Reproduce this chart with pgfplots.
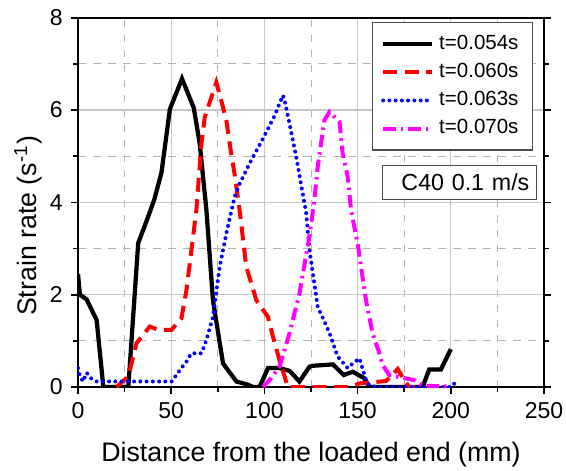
\documentclass[border=0pt]{standalone}
\usepackage{fontspec}
\setmainfont{Liberation Sans}
\usepackage{pgfplots}
\pgfplotsset{compat=1.18}
\definecolor{mag}{RGB}{255,0,255}
\definecolor{rd}{RGB}{255,0,0}
\definecolor{bl}{RGB}{0,0,255}
\begin{document}
\begin{tikzpicture}
\begin{axis}[
 scale only axis, width=186.4pt, height=147.7pt,
 xmin=0, xmax=250, ymin=0, ymax=8,
 xtick={0,50,...,250}, ytick={0,2,...,8},
 minor x tick num=1, minor y tick num=1,
 grid=both,
 major grid style={black!22, line width=0.5pt},
 minor grid style={black!30, dashed, line width=0.4pt},
 axis line style={line width=0.9pt},
 every tick/.style={black, line width=0.7pt},
 tick align=outside,
 xtick pos=lower, ytick pos=both,
 major tick length=2.6pt, minor tick length=2pt,
 /pgf/number format/assume math mode=true,
 tick label style={font=\fontsize{9.2}{11}\selectfont},
 xlabel={Distance from the loaded end (mm)},
 ylabel={Strain rate (s\textsuperscript{-1})},
 label style={font=\fontsize{10.7}{13}\selectfont},
 xlabel style={at={(axis description cs:0.5,0)}, anchor=base, yshift=-29.9pt},
 ylabel style={at={(axis description cs:0,0.436)}, anchor=base, yshift=16.4pt},
 legend style={at={(0.976,0.988)}, anchor=north east, font=\fontsize{8.2}{9.8}\selectfont,
   draw=black!70, line width=0.5pt, cells={anchor=west}, inner xsep=3.5pt, inner ysep=3pt, row sep=0pt},
 legend image code/.code={\draw[#1] (0pt,0pt) -- (19.6pt,0pt);},
]
\addplot[black, line width=1.7pt] coordinates {
(0,2.45) (1,2.0) (4.6,1.9) (10,1.45) (13.6,0) (27,0) (32.3,3.12) (37,3.62) (41,4.07)
(44.8,4.65) (49.3,6.02) (55.8,6.68) (62.1,6.05) (65.3,5.27) (68.9,3.83) (72.4,1.88)
(77.8,0.51) (85,0.12) (91.2,0.05) (93.9,0) (97.4,0) (101.9,0.41) (108,0.41) (113.5,0.35)
(118.8,0.12) (124.2,0.44) (126,0.46) (136.7,0.49) (142.6,0.26) (147.4,0.33) (153.6,0.19)
(156.3,0) (184.9,0) (188.4,0.38) (194.7,0.38) (200,0.82)};
\addlegendentry{t=0.054s}
\addplot[rd, line width=1.6pt, dash pattern=on 5.6pt off 3pt] coordinates {
(20.7,0) (27,0.23) (31.4,0.95) (38.5,1.31) (43,1.24) (50.2,1.24) (55.5,1.49) (58.2,2.1)
(63.5,3.83) (66.2,5.27) (68,5.84) (74.2,6.6) (76.9,6.2) (79.6,5.77) (82.3,5.02) (84,4.62)
(86.7,3.83) (90.3,2.6) (95.7,1.88) (101.9,1.52) (104.6,1.09) (108.1,0.58) (112.6,0)
(146,0) (151,0.08) (157.2,0.1) (165.2,0.13) (167.9,0.23) (171.5,0.39) (175,0.15) (177.7,0) (181,0)};
\addlegendentry{t=0.060s}
\addplot[bl, line width=1.6pt, line cap=round, dash pattern=on 0pt off 2.5pt] coordinates {
(0,0.41) (1,0.23) (2.8,0.12) (4.6,0.31) (7,0.19) (10,0.12) (50.2,0.12) (52.8,0.26) (56,0.44)
(58.2,0.55) (60.8,0.73) (66.2,0.73) (68.9,1.02) (72.4,1.52) (76,2.6) (79.6,3.33) (84,4.12)
(86.7,4.4) (92,4.84) (99.2,5.38) (105.5,5.88) (109.9,6.32) (110.8,6.21) (113.5,5.7) (117.1,4.98)
(122.4,3.77) (124.2,2.96) (126.8,2.24) (128.6,1.74) (132.2,1.42) (134.9,1.17) (139.3,0.66)
(144.7,0.41) (147.4,0.51) (151,0.62) (154.5,0.15) (156.3,0.04) (160,0) (200,0) (202,0.08)};
\addlegendentry{t=0.063s}
\addplot[mag, line width=1.6pt, dash pattern=on 5pt off 2pt on 1pt off 2pt] coordinates {
(99.2,0) (102.8,0.15) (108.1,0.44) (113.5,1.17) (118.8,2.02) (120.6,2.45) (124.2,3.27) (126.8,4.05)
(128.6,4.77) (132.2,5.78) (134.9,5.96) (140.3,5.74) (142,5.06) (144.7,4.55) (146.5,3.83)
(150,3.11) (154.5,1.88) (158,1.17) (161.7,0.73) (163.4,0.48) (167,0.26) (180.4,0.15)
(184.9,0.03) (198.2,0.01) (200,0)};
\addlegendentry{t=0.070s}
\node[draw=black!70, line width=0.5pt, fill=white, anchor=east, text width=56pt, align=right,
  inner xsep=2.8pt, inner ysep=0pt, minimum height=13.4pt, font=\fontsize{9.3}{11}\selectfont]
  at (rel axis cs:0.985,0.554) {C40 0.1 m/s};
\end{axis}
\pgfresetboundingbox
\path[use as bounding box] (current axis.south west) ++(-31.2pt,-33.2pt) rectangle ++(226.4pt,188pt);
\end{tikzpicture}
\end{document}
